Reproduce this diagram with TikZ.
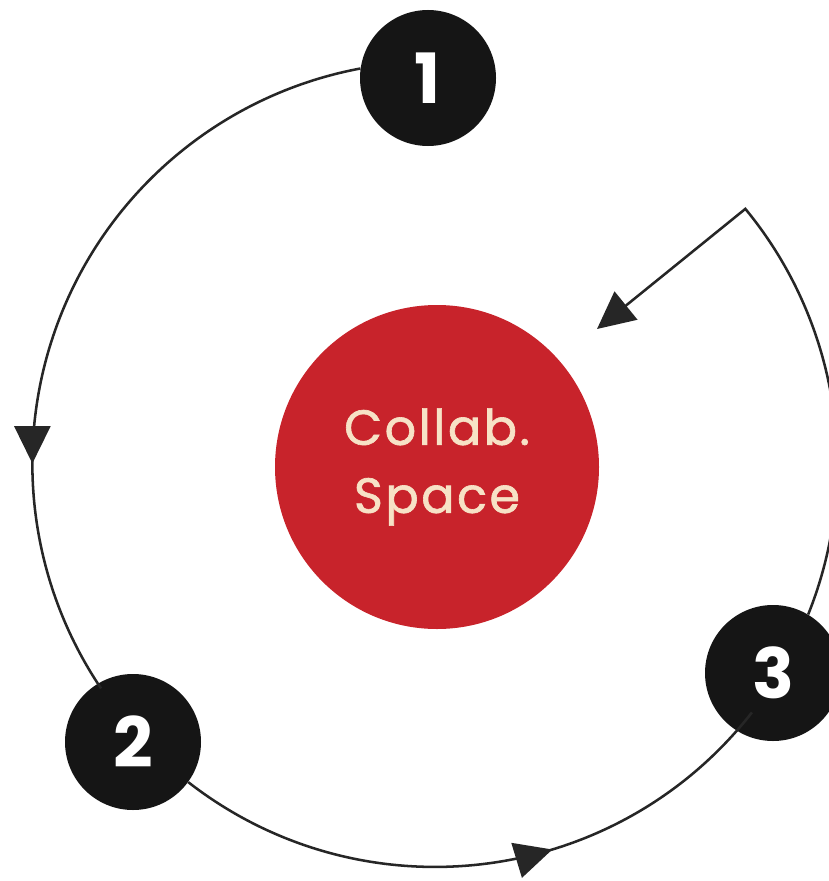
\documentclass[tikz,border=0pt]{standalone}
\usepackage{fontspec}
\newfontfamily\labelfont{Poppins}
\newfontfamily\hubfont[FakeBold=1.3,LetterSpace=5]{Poppins}
\usepackage{tikz}
\usetikzlibrary{arrows.meta,decorations.markings}

\definecolor{hubred}{HTML}{C8232B}
\definecolor{hubtext}{HTML}{F7E2C6}
\definecolor{dotblack}{HTML}{151515}

\begin{document}
\begin{tikzpicture}[x=0.75pt,y=0.75pt,yscale=-1,xscale=1,
    numdot/.style={circle,fill=dotblack,minimum size=102pt,inner sep=0pt,text=white,
        font=\labelfont\bfseries\fontsize{52}{52}\selectfont},
    hub/.style={circle,fill=hubred,minimum size=243pt,inner sep=0pt,text=hubtext,align=center,
        font=\hubfont\fontsize{37}{51}\selectfont},
    loopline/.style={line width=1.9pt,draw=black!85},
    midarrow/.style={decoration={markings,mark=at position #1 with {\arrow{Triangle[length=28pt,width=27pt]}}},
        postaction={decorate}}]
        \useasboundingbox (0,0) rectangle (828,881);
        % centre
        \node[hub] (hub) at (437,467) {Collab.\\Space};
        % steps round the loop
        \node[numdot] (n1) at (428,78) {1};
        \node[numdot] (n2) at (133,742) {2};
        \node[numdot] (n3) at (773,673) {3};
        \coordinate (tip) at (597,329);
        % loop, radius 402 round the centre
        \draw[loopline,midarrow=0.7] (n1.172) arc[start angle=-100.6, end angle=-214, radius=402];
        \draw[loopline,midarrow=0.61] (n2.-36) arc[start angle=127.9, end angle=38, radius=402];
        \draw[loopline,-{Triangle[length=28pt,width=27pt]}] (n3.59) arc[start angle=21.9, end angle=-39.5, radius=402] -- (tip);
\end{tikzpicture}
\end{document}
